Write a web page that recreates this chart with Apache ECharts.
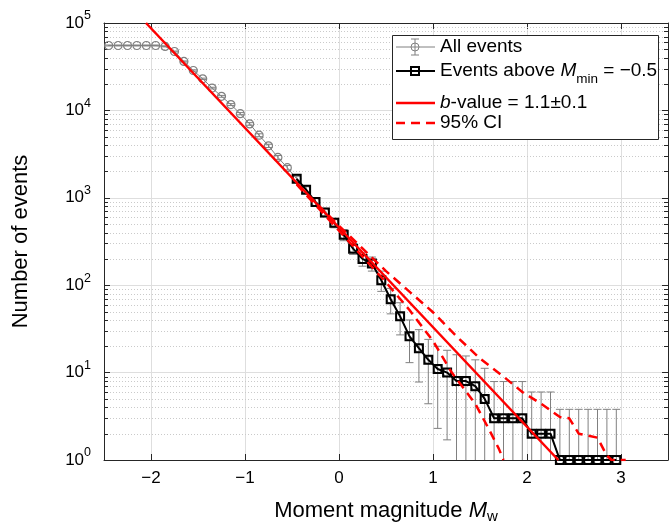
<!DOCTYPE html>
<html>
<head>
<meta charset="utf-8">
<title>Magnitude-frequency distribution</title>
<script src="https://cdn.jsdelivr.net/npm/echarts@6/dist/echarts.min.js"></script>
<style>
  html, body { margin: 0; padding: 0; background: #fff; }
  #main { width: 669px; height: 527px; }
</style>
</head>
<body>
<div id="main"></div>
<script>
// axis limits
const X_MIN = -2.5, X_MAX = 3.5;
const Y_MIN = 1, Y_MAX = 100000;

// bin centres (moment magnitude)
const mags = [-2.45, -2.35, -2.25, -2.15, -2.05, -1.95, -1.85, -1.75, -1.65, -1.55,
  -1.45, -1.35, -1.25, -1.15, -1.05, -0.95, -0.85, -0.75, -0.65, -0.55,
  -0.45, -0.35, -0.25, -0.15, -0.05, 0.05, 0.15, 0.25, 0.35, 0.45,
  0.55, 0.65, 0.75, 0.85, 0.95, 1.05, 1.15, 1.25, 1.35, 1.45,
  1.55, 1.65, 1.75, 1.85, 1.95, 2.05, 2.15, 2.25, 2.35, 2.45,
  2.55, 2.65, 2.75, 2.85, 2.95];

// cumulative number of events above each magnitude
const allCounts = [55300, 55300, 55300, 55300, 55300, 55300, 54000, 47200, 36300, 28600,
  23000, 18000, 14500, 11650, 9170, 7000, 5200, 3930, 2900, 2210,
  1650, 1240, 895, 680, 518, 378, 262, 200, 177, 114,
  69, 44, 26, 19, 14, 11, 10, 8, 8, 7,
  5, 3, 3, 3, 3, 2, 2, 2, 1, 1,
  1, 1, 1, 1, 1];

// error bar ends (0.1 = below the axis)
const errLow = [54600, 54600, 54600, 54600, 54600, 54600, 53300, 46600, 35800, 28100,
  22600, 17600, 14150, 11350, 8900, 6760, 5000, 3760, 2750, 2080,
  1535, 1140, 810, 605, 454, 323, 225, 165, 145, 85,
  47, 27, 13, 7.8, 4.4, 2.3, 1.7, 0.1, 0.1, 0.1,
  0.1, 0.1, 0.1, 0.1, 0.1, 0.1, 0.1, 0.1, 0.1, 0.1,
  0.1, 0.1, 0.1, 0.1, 0.1];
const errHigh = [56000, 56000, 56000, 56000, 56000, 56000, 54700, 47800, 36800, 29100,
  23400, 18400, 14850, 11950, 9440, 7240, 5400, 4100, 3050, 2340,
  1765, 1340, 980, 755, 582, 433, 300, 235, 210, 145,
  92, 63, 40, 31, 24, 20, 18, 16, 15.5, 14,
  11.2, 7.9, 7.9, 7.9, 7.9, 6, 6, 6, 3.8, 3.8,
  3.8, 3.8, 3.8, 3.8, 3.8];

const M_MIN_INDEX = 20; // first bin above Mmin = -0.5

// b-value fit line
const fitM = [-2.053, 2.333];
const fitN = [100000, 1];

// 95% confidence bounds
const ciUpperM = [-0.45, 0, 0.5, 1.0, 1.25, 1.5, 1.75, 1.95, 2.15, 2.35, 2.45, 2.55, 2.75, 2.85, 2.9, 3.05];
const ciUpperN = [1445, 479, 145, 49, 26, 14.5, 9.0, 6.0, 4.4, 3.1, 3.0, 2.0, 1.8, 1.12, 1, 1];
const ciLowerM = [-0.45, 0, 0.5, 0.75, 1.0, 1.2, 1.45, 1.6, 1.7, 1.75];
const ciLowerN = [1420, 420, 108, 52, 23, 10, 4.4, 2.2, 1.35, 1];

// minor log ticks
const minorTicks = [2, 3, 4, 5, 6, 7, 8, 9,
  20, 30, 40, 50, 60, 70, 80, 90,
  200, 300, 400, 500, 600, 700, 800, 900,
  2000, 3000, 4000, 5000, 6000, 7000, 8000, 9000,
  20000, 30000, 40000, 50000, 60000, 70000, 80000, 90000];

const FONT = '"Liberation Sans", Helvetica, Arial, sans-serif';
const AX = '#262626';
const GRAY = '#808080';
const RED = '#ff0000';

function pairs(xs, ys) {
  return xs.map(function (x, i) { return [x, ys[i]]; });
}

const allData = pairs(mags, allCounts);
const aboveData = allData.slice(M_MIN_INDEX);
const errData = mags.map(function (m, i) { return [m, allCounts[i], errLow[i], errHigh[i]]; });
const minorData = minorTicks.map(function (v) { return [X_MIN, v]; });

function renderErr(params, api) {
  const cs = params.coordSys;
  const yBottom = cs.y + cs.height;
  const m = api.value(0);
  const x = api.coord([m, api.value(1)])[0];
  const yHi = api.coord([m, api.value(3)])[1];
  let yLo = api.coord([m, api.value(2)])[1];
  const st = { stroke: GRAY, lineWidth: 1 };
  const loOff = yLo > yBottom;
  if (loOff) yLo = yBottom;
  const kids = [
    { type: 'line', shape: { x1: x, y1: yHi, x2: x, y2: yLo }, style: st },
    { type: 'line', shape: { x1: x - 4, y1: yHi, x2: x + 4, y2: yHi }, style: st }
  ];
  if (!loOff) kids.push({ type: 'line', shape: { x1: x - 4, y1: yLo, x2: x + 4, y2: yLo }, style: st });
  return { type: 'group', children: kids };
}

function renderMinor(params, api) {
  const v = api.value(1);
  const p0 = api.coord([X_MIN, v]);
  const p1 = api.coord([X_MAX, v]);
  const y = Math.round(p0[1]) + 0.5;
  return {
    type: 'group',
    children: [
      { type: 'line', shape: { x1: p0[0], y1: y, x2: p1[0], y2: y }, style: { stroke: '#cacaca', lineWidth: 1, lineDash: [1, 2] } },
      { type: 'line', shape: { x1: p0[0], y1: y, x2: p0[0] + 4, y2: y }, style: { stroke: AX, lineWidth: 1 } },
      { type: 'line', shape: { x1: p1[0] - 4, y1: y, x2: p1[0], y2: y }, style: { stroke: AX, lineWidth: 1 } }
    ]
  };
}

function fmtX(v) {
  return v < 0 ? '\u2212' + Math.abs(v) : String(v);
}

const legendRows = [47, 71, 103, 123];
const lx1 = 396, lx2 = 435, mx = 415, tx = 440;
const LFS = 19;
const legText = { fontSize: LFS, fontFamily: FONT, fill: '#000' };

const legend = [
  { type: 'rect', shape: { x: 392.5, y: 35.5, width: 266, height: 104 }, style: { fill: '#fff', stroke: AX, lineWidth: 1 } },
  // All events
  { type: 'line', shape: { x1: lx1, y1: legendRows[0], x2: lx2, y2: legendRows[0] }, style: { stroke: GRAY, lineWidth: 1 } },
  { type: 'line', shape: { x1: mx, y1: legendRows[0] - 8, x2: mx, y2: legendRows[0] + 8 }, style: { stroke: GRAY, lineWidth: 1 } },
  { type: 'line', shape: { x1: mx - 4, y1: legendRows[0] - 8, x2: mx + 4, y2: legendRows[0] - 8 }, style: { stroke: GRAY, lineWidth: 1 } },
  { type: 'line', shape: { x1: mx - 4, y1: legendRows[0] + 8, x2: mx + 4, y2: legendRows[0] + 8 }, style: { stroke: GRAY, lineWidth: 1 } },
  { type: 'circle', shape: { cx: mx, cy: legendRows[0], r: 4 }, style: { fill: 'none', stroke: GRAY, lineWidth: 1 } },
  { type: 'text', x: tx, y: legendRows[0], style: Object.assign({ text: 'All events', verticalAlign: 'middle' }, legText) },
  // Events above Mmin
  { type: 'line', shape: { x1: lx1, y1: legendRows[1], x2: lx2, y2: legendRows[1] }, style: { stroke: '#000', lineWidth: 2 } },
  { type: 'rect', shape: { x: mx - 4, y: legendRows[1] - 4, width: 8, height: 8 }, style: { fill: 'none', stroke: '#000', lineWidth: 2 } },
  { type: 'text', x: tx, y: legendRows[1], style: Object.assign({
      text: '{t|Events above }{i|M}{s|min}{t| = \u22120.5}', verticalAlign: 'middle',
      rich: {
        t: { fontSize: LFS, fontFamily: FONT },
        i: { fontSize: LFS, fontFamily: FONT, fontStyle: 'italic' },
        s: { fontSize: 13.5, fontFamily: FONT, padding: [16, 0, 0, 0] }
      } }, legText) },
  // b-value
  { type: 'line', shape: { x1: lx1, y1: legendRows[2], x2: lx2, y2: legendRows[2] }, style: { stroke: RED, lineWidth: 2.5 } },
  { type: 'text', x: tx, y: legendRows[2], style: Object.assign({
      text: '{i|b}{t|-value = 1.1\u00b10.1}', verticalAlign: 'middle',
      rich: {
        t: { fontSize: LFS, fontFamily: FONT },
        i: { fontSize: LFS, fontFamily: FONT, fontStyle: 'italic' }
      } }, legText) },
  // CI
  { type: 'line', shape: { x1: lx1, y1: legendRows[3], x2: lx2, y2: legendRows[3] }, style: { stroke: RED, lineWidth: 2.5, lineDash: [9, 6] } },
  { type: 'text', x: tx, y: legendRows[3], style: Object.assign({ text: '95% CI', verticalAlign: 'middle' }, legText) }
];
legend.forEach(function (el) { el.z = 100; });

const chart = echarts.init(document.getElementById('main'));
chart.setOption({
  animation: false,
  backgroundColor: '#fff',
  textStyle: { fontFamily: FONT },
  grid: { left: 104, right: 1, top: 23, bottom: 67, outerBoundsMode: 'none' },
  xAxis: [{
    type: 'value', min: X_MIN, max: X_MAX, splitNumber: 6,
    axisLine: { show: true, onZero: false, lineStyle: { color: AX, width: 1 } },
    axisTick: { show: true, inside: true, length: 6, lineStyle: { color: AX } },
    axisLabel: { show: true, color: '#000', fontSize: 17, fontFamily: FONT, margin: 10,
      showMinLabel: false, showMaxLabel: false, formatter: fmtX },
    splitLine: { show: true, lineStyle: { color: '#dedede', width: 1 } },
    name: '{t|Moment magnitude }{i|M}{s|w}',
    nameLocation: 'middle', nameGap: 37,
    nameTextStyle: {
      color: '#000',
      rich: {
        t: { fontSize: 22, fontFamily: FONT, color: '#000' },
        i: { fontSize: 22, fontFamily: FONT, fontStyle: 'italic', color: '#000' },
        s: { fontSize: 15, fontFamily: FONT, color: '#000', padding: [12, 0, 0, 0] }
      }
    }
  }, {
    type: 'value', position: 'top', min: X_MIN, max: X_MAX, splitNumber: 6,
    axisLine: { show: true, onZero: false, lineStyle: { color: AX, width: 1 } },
    axisTick: { show: true, inside: true, length: 6, lineStyle: { color: AX } },
    axisLabel: { show: false },
    splitLine: { show: false }
  }],
  yAxis: [{
    type: 'log', logBase: 10, min: Y_MIN, max: Y_MAX,
    axisLine: { show: true, onZero: false, lineStyle: { color: AX, width: 1 } },
    axisTick: { show: true, inside: true, length: 6, lineStyle: { color: AX } },
    axisLabel: {
      show: true, margin: 13, color: '#000',
      formatter: function (v) { return '{b|10}{s|' + Math.round(Math.log10(v)) + '}'; },
      rich: {
        b: { fontSize: 17, fontFamily: FONT, color: '#000' },
        s: { fontSize: 12.5, fontFamily: FONT, color: '#000', padding: [0, 0, 14, 0] }
      }
    },
    splitLine: { show: true, lineStyle: { color: '#dedede', width: 1 } },
    name: 'Number of events', nameLocation: 'middle', nameGap: 72, nameRotate: 90,
    nameTextStyle: { fontSize: 22, fontFamily: FONT, color: '#000' }
  }, {
    type: 'log', logBase: 10, min: Y_MIN, max: Y_MAX, position: 'right',
    axisLine: { show: true, onZero: false, lineStyle: { color: AX, width: 1 } },
    axisTick: { show: true, inside: true, length: 6, lineStyle: { color: AX } },
    axisLabel: { show: false },
    splitLine: { show: false }
  }],
  graphic: legend,
  series: [
    {
      type: 'custom', name: 'minor', renderItem: renderMinor, data: minorData,
      encode: { x: 0, y: 1 }, z: 1, silent: true
    },
    {
      type: 'custom', name: 'errors', renderItem: renderErr, data: errData,
      encode: { x: 0, y: 1 }, z: 2, silent: true
    },
    {
      type: 'line', name: 'All events', data: allData, z: 3,
      symbol: 'circle', symbolSize: 8,
      itemStyle: { color: 'rgba(0,0,0,0)', borderColor: GRAY, borderWidth: 1.2 },
      lineStyle: { color: GRAY, width: 1 }
    },
    {
      type: 'line', name: 'Events above Mmin', data: aboveData, z: 4,
      symbol: 'rect', symbolSize: 8,
      itemStyle: { color: 'rgba(0,0,0,0)', borderColor: '#000', borderWidth: 2 },
      lineStyle: { color: '#000', width: 2 }
    },
    {
      type: 'line', name: 'b-value', data: pairs(fitM, fitN), z: 5,
      symbol: 'none', lineStyle: { color: RED, width: 2.5 }
    },
    {
      type: 'line', name: 'CI upper', data: pairs(ciUpperM, ciUpperN), z: 5,
      symbol: 'none', lineStyle: { color: RED, width: 2.5, type: [9, 6] }
    },
    {
      type: 'line', name: 'CI lower', data: pairs(ciLowerM, ciLowerN), z: 5,
      symbol: 'none', lineStyle: { color: RED, width: 2.5, type: [9, 6] }
    }
  ]
});
</script>
</body>
</html>
